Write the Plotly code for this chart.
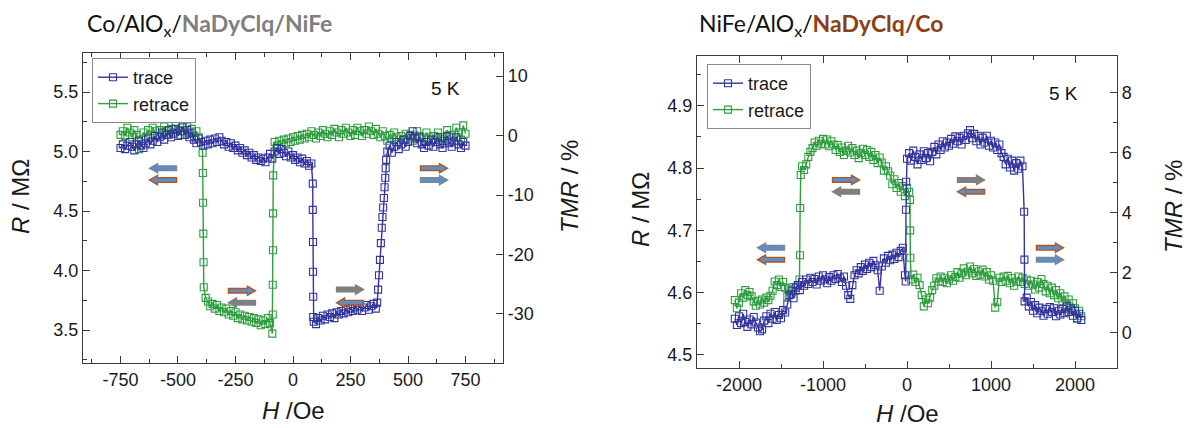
import plotly.graph_objects as go

# ---------------- data: left panel  Co/AlOx/NaDyClq/NiFe ----------------
L_trace_H = [-750,-740,-730,-720,-710,-700,-690,-680,-670,-660,-650,-640,-630,-620,-610,-600,-590,-580,-570,-560,
             -550,-540,-530,-520,-510,-500,-490,-480,-470,-460,-450,-440,-430,-420,-410,-400,-390,-380,-370,-360,
             -350,-340,-330,-320,-310,-300,-290,-280,-270,-260,-250,-240,-230,-220,-210,-200,-190,-180,-170,-160,
             -150,-140,-130,-120,-110,-100,-90,-80,-70,-60,-50,-40,-30,-20,-10,0,10,20,30,40,50,60,70,80,
             86,86,87,87,88,88,
             90,100,110,120,130,140,150,160,170,180,190,200,210,220,230,240,250,260,270,280,290,300,310,320,330,340,350,360,
             366,370,374,378,382,386,389,392,395,398,401,403,405,
             410,420,430,440,450,460,470,480,490,500,510,520,530,540,550,560,570,580,590,600,610,620,630,640,650,
             660,670,680,690,700,710,720,730,740,750]
L_trace_R = [5.03,5.06,5.02,5.05,5.08,5.04,5.01,5.06,5.09,5.05,5.03,5.07,5.11,5.06,5.09,5.13,5.08,5.12,5.16,5.10,
             5.14,5.18,5.12,5.15,5.19,5.13,5.17,5.21,5.14,5.18,5.12,5.16,5.10,5.07,5.11,5.08,5.05,5.09,5.06,5.10,
             5.07,5.11,5.08,5.12,5.09,5.06,5.08,5.04,5.07,5.03,5.05,5.01,5.03,4.99,5.01,4.97,4.99,4.95,4.97,4.93,
             4.95,4.92,4.94,4.91,4.95,4.98,4.94,5.00,5.03,4.98,5.02,4.99,4.96,5.00,4.95,4.97,4.93,4.95,4.91,4.94,4.90,4.92,4.88,4.90,
             4.73,4.51,4.24,3.99,3.78,3.61,
             3.57,3.55,3.60,3.58,3.62,3.59,3.63,3.61,3.64,3.60,3.65,3.63,3.66,3.64,3.67,3.65,3.68,3.66,3.69,3.67,3.70,3.66,3.69,3.71,3.67,3.70,3.72,3.68,
             3.73,3.84,3.96,4.09,4.23,4.36,4.45,4.53,4.61,4.70,4.78,4.86,4.93,
             5.00,5.05,4.99,5.04,5.08,5.02,5.06,5.10,5.04,5.08,5.13,5.17,5.11,5.07,5.12,5.06,5.03,5.08,5.05,5.10,5.04,5.08,5.12,5.06,5.03,
             5.09,5.13,5.07,5.04,5.09,5.12,5.06,5.03,5.08,5.05]

L_retrace_H = [750,740,730,720,710,700,690,680,670,660,650,640,630,620,610,600,590,580,570,560,
               550,540,530,520,510,500,490,480,470,460,450,440,430,420,410,400,390,380,370,360,
               350,340,330,320,310,300,290,280,270,260,250,240,230,220,210,200,190,180,170,160,
               150,140,130,120,110,100,90,80,70,60,50,40,30,20,10,0,-10,-20,-30,-40,-50,-60,-70,-80,
               -86,-87,-87,-88,-88,
               -90,-100,-110,-120,-130,-140,-150,-160,-170,-180,-190,-200,-210,-220,-230,-240,-250,-260,-270,-280,
               -290,-300,-310,-320,-330,-340,-350,-360,-370,-380,
               -388,-389,-390,-391,-392,-393,
               -400,-410,-420,-430,-440,-450,-460,-470,-480,-490,-500,-510,-520,-530,-540,-550,-560,-570,-580,-590,
               -600,-610,-620,-630,-640,-650,-660,-670,-680,-690,-700,-710,-720,-730,-740,-750]
L_retrace_R = [5.15,5.22,5.10,5.16,5.20,5.12,5.08,5.14,5.18,5.11,5.07,5.12,5.16,5.10,5.13,5.09,5.12,5.16,5.11,5.08,
               5.13,5.17,5.12,5.09,5.14,5.11,5.15,5.10,5.13,5.08,5.12,5.16,5.11,5.14,5.09,5.13,5.17,5.12,5.15,5.19,
               5.14,5.17,5.21,5.15,5.18,5.13,5.17,5.20,5.14,5.18,5.13,5.16,5.20,5.15,5.18,5.12,5.16,5.19,5.14,5.17,
               5.12,5.15,5.18,5.13,5.16,5.11,5.14,5.17,5.12,5.15,5.11,5.14,5.10,5.13,5.09,5.12,5.08,5.11,5.07,5.10,5.06,5.09,5.05,5.08,
               4.80,4.48,4.17,3.88,3.63,
               3.47,3.56,3.60,3.55,3.58,3.54,3.59,3.56,3.60,3.57,3.61,3.58,3.62,3.59,3.63,3.60,3.65,3.62,3.66,3.63,
               3.68,3.65,3.69,3.66,3.71,3.68,3.72,3.70,3.74,3.77,
               3.86,4.07,4.31,4.57,4.82,4.99,
               5.08,5.12,5.17,5.13,5.19,5.15,5.21,5.16,5.20,5.14,5.18,5.22,5.16,5.19,5.14,5.17,5.21,5.15,5.18,5.13,
               5.17,5.20,5.14,5.18,5.12,5.16,5.10,5.02,5.14,5.18,5.12,5.16,5.20,5.13,5.17,5.14]

# ---------------- data: right panel  NiFe/AlOx/NaDyClq/Co ----------------
R_trace_H = [-2050,-2025,-2000,-1975,-1950,-1925,-1900,-1875,-1850,-1825,-1800,-1775,-1750,-1725,-1700,-1675,-1650,-1625,-1600,-1575,
             -1550,-1525,-1500,-1475,-1450,-1425,-1400,-1375,-1350,-1325,-1300,-1275,-1250,-1225,-1200,-1175,-1150,-1125,-1100,-1075,
             -1050,-1025,-1000,-975,-950,-925,-900,-875,-850,-825,-800,-775,-750,-725,-700,-675,-650,-625,-600,-575,
             -550,-525,-500,-475,-450,-425,-400,-375,-350,-325,-300,-275,-250,-225,-200,-175,-150,-125,-100,-75,-50,-25,
             -15,-12,-10,
             0,25,50,75,100,125,150,175,200,225,250,275,300,325,350,375,400,425,450,475,500,525,550,575,600,625,650,675,
             700,725,750,775,800,825,850,875,900,925,950,975,1000,1025,1050,1075,1100,1125,1150,1175,1200,1225,1250,1275,
             1300,1325,1350,1375,
             1395,1398,
             1400,1425,1450,1475,1500,1525,1550,1575,1600,1625,1650,1675,1700,1725,1750,1775,1800,1825,1850,1875,
             1900,1925,1950,1975,2000,2025,2050,2075]
R_trace_R = [4.558,4.548,4.562,4.551,4.566,4.553,4.545,4.557,4.549,4.561,4.552,4.544,4.538,4.541,4.555,4.562,4.551,4.566,4.558,4.569,
             4.556,4.564,4.559,4.572,4.568,4.581,4.596,4.603,4.591,4.608,4.612,4.604,4.617,4.611,4.621,4.614,4.624,4.617,4.622,4.613,
             4.626,4.619,4.628,4.621,4.615,4.625,4.619,4.628,4.622,4.630,4.624,4.617,4.626,4.611,4.596,4.590,4.612,4.628,4.636,4.631,
             4.641,4.635,4.645,4.638,4.648,4.641,4.651,4.644,4.636,4.603,4.642,4.655,4.648,4.659,4.652,4.661,4.654,4.664,4.657,4.667,4.672,4.628,
             4.618,4.733,4.778,
             4.815,4.824,4.812,4.828,4.818,4.806,4.822,4.813,4.827,4.816,4.824,4.811,4.826,4.834,4.822,4.838,4.829,4.843,4.833,4.841,
             4.836,4.847,4.839,4.851,4.843,4.849,4.838,4.852,4.845,4.856,4.861,4.848,4.855,4.843,4.852,4.838,4.849,4.841,4.852,4.836,
             4.844,4.833,4.841,4.829,4.838,4.824,4.818,4.806,4.815,4.801,4.812,4.796,4.808,4.799,4.812,4.803,
             4.730,4.653,
             4.586,4.592,4.578,4.585,4.571,4.580,4.567,4.576,4.571,4.563,4.574,4.566,4.577,4.569,4.575,4.562,4.571,4.565,4.574,4.567,
             4.578,4.569,4.575,4.563,4.571,4.559,4.566,4.556]

R_retrace_H = [2075,2050,2025,2000,1975,1950,1925,1900,1875,1850,1825,1800,1775,1750,1725,1700,1675,1650,1625,1600,
               1575,1550,1525,1500,1475,1450,1425,1400,1375,1350,1325,1300,1275,1250,1225,1200,1175,1150,1125,1100,
               1075,1050,1025,1000,975,950,925,900,875,850,825,800,775,750,725,700,675,650,625,600,
               575,550,525,500,475,450,425,400,375,350,325,300,275,250,225,200,175,150,125,100,75,50,
               40,38,36,
               25,0,-25,-50,-75,-100,-125,-150,-175,-200,-225,-250,-275,-300,-325,-350,-375,-400,-425,-450,
               -475,-500,-525,-550,-575,-600,-625,-650,-675,-700,-725,-750,-775,-800,-825,-850,-875,-900,-925,-950,
               -975,-1000,-1025,-1050,-1075,-1100,-1125,-1150,-1175,-1200,-1225,-1250,-1265,
               -1272,-1274,
               -1280,-1300,-1325,-1350,-1375,-1400,-1425,-1450,-1475,-1500,-1525,-1550,-1575,-1600,-1625,-1650,
               -1675,-1700,-1725,-1750,-1775,-1800,-1825,-1850,-1875,-1900,-1925,-1950,-1975,-2000,-2025,-2050]
R_retrace_R = [4.562,4.571,4.558,4.575,4.583,4.572,4.589,4.581,4.594,4.586,4.599,4.591,4.604,4.596,4.608,4.599,4.611,4.602,4.614,4.622,
               4.608,4.617,4.605,4.613,4.619,4.611,4.621,4.614,4.624,4.617,4.626,4.618,4.611,4.623,4.615,4.627,4.619,4.626,4.617,4.624,
               4.585,4.576,4.619,4.628,4.621,4.633,4.626,4.637,4.629,4.634,4.627,4.638,4.631,4.642,4.634,4.628,4.639,4.631,4.624,4.633,
               4.625,4.619,4.628,4.621,4.615,4.624,4.617,4.626,4.618,4.623,4.611,4.604,4.592,4.583,4.589,4.578,4.596,4.612,4.624,4.617,4.629,4.621,
               4.656,4.700,4.749,
               4.762,4.768,4.755,4.771,4.762,4.776,4.768,4.782,4.774,4.788,4.795,4.803,4.796,4.809,4.817,4.808,4.821,4.813,4.826,4.818,
               4.829,4.821,4.831,4.824,4.816,4.828,4.821,4.832,4.825,4.836,4.828,4.821,4.833,4.826,4.837,4.829,4.838,4.843,4.835,4.846,
               4.838,4.847,4.839,4.844,4.836,4.841,4.832,4.826,4.818,4.806,4.797,4.803,4.789,
               4.736,4.660,
               4.621,4.612,4.603,4.609,4.598,4.605,4.594,4.608,4.617,4.609,4.621,4.612,4.618,4.603,4.595,4.588,
               4.592,4.584,4.589,4.581,4.587,4.579,4.586,4.594,4.601,4.596,4.604,4.592,4.599,4.584,4.575,4.588]

# tick values / labels
L_H_ticks = [-750, -500, -250, 0, 250, 500, 750]
L_R_ticks = [3.5, 4.0, 4.5, 5.0, 5.5]
L_TMR_ticks = [-30, -20, -10, 0, 10]
R_H_ticks = [-2000, -1000, 0, 1000, 2000]
R_R_ticks = [4.5, 4.6, 4.7, 4.8, 4.9]
R_TMR_ticks = [0, 2, 4, 6, 8]

# ---------------- style ----------------
W, H = 1190, 428
BLUE = "#34349f"
GREEN = "#2f9e3f"
AX = "#3a3a3a"
TICKFONT = dict(family="Liberation Sans, Arial, sans-serif", size=18, color="#1a1a1a")
TITLEFONT = dict(family="Liberation Sans, Arial, sans-serif", size=24, color="#1a1a1a")

# panel pixel boxes (left, top, right, bottom)
LBOX = (83, 53, 503, 363)
RBOX = (697, 56, 1117, 368)
L_XR, L_YR, L_Y2R = [-913, 913], [3.223, 5.828], [-38.24, 13.87]
R_XR, R_YR, R_Y2R = [-2500, 2500], [4.479, 4.980], [-1.17, 9.23]


def dom_x(b):
    return [b[0] / W, b[2] / W]


def dom_y(b):
    return [(H - b[3]) / H, (H - b[1]) / H]


def lab(vals, fmt="{:g}"):
    return [fmt.format(v) for v in vals]


fig = go.Figure()


def add_series(xs, ys, name, color, xa, ya, leg, rank):
    fig.add_trace(go.Scatter(
        x=xs, y=ys, mode="lines+markers", name=name, xaxis=xa, yaxis=ya,
        legend=leg, legendrank=rank,
        line=dict(color=color, width=1.4),
        marker=dict(symbol="square-open", size=7, color=color, line=dict(width=1.1, color=color)),
    ))


add_series(L_retrace_H, L_retrace_R, "retrace", GREEN, "x", "y", "legend", 2)
add_series(L_trace_H, L_trace_R, "trace", BLUE, "x", "y", "legend", 1)
add_series(R_retrace_H, R_retrace_R, "retrace", GREEN, "x2", "y3", "legend2", 2)
add_series(R_trace_H, R_trace_R, "trace", BLUE, "x2", "y3", "legend2", 1)
# empty traces so the TMR axes are drawn
fig.add_trace(go.Scatter(x=[None], y=[None], xaxis="x", yaxis="y2", showlegend=False, hoverinfo="skip"))
fig.add_trace(go.Scatter(x=[None], y=[None], xaxis="x2", yaxis="y4", showlegend=False, hoverinfo="skip"))

common = dict(showgrid=False, zeroline=False, showline=True, linecolor=AX, linewidth=1.2,
              ticks="inside", tickcolor=AX, tickwidth=1.2, ticklen=7, tickfont=TICKFONT)

fig.update_layout(
    width=W, height=H, margin=dict(l=0, r=0, t=0, b=0),
    paper_bgcolor="white", plot_bgcolor="white",
    xaxis=dict(domain=dom_x(LBOX), range=L_XR, anchor="y", tickmode="array",
               tickvals=L_H_ticks, ticktext=lab(L_H_ticks), mirror="ticks",
               minor=dict(tickvals=[-875, -625, -375, -125, 125, 375, 625, 875], ticklen=4, ticks="inside",
                          tickcolor=AX), **common),
    yaxis=dict(domain=dom_y(LBOX), range=L_YR, anchor="x", tickmode="array",
               tickvals=L_R_ticks, ticktext=lab(L_R_ticks, "{:.1f}"),
               minor=dict(tickvals=[3.25, 3.75, 4.25, 4.75, 5.25, 5.75], ticklen=4, ticks="inside", tickcolor=AX),
               **common),
    yaxis2=dict(range=L_Y2R, overlaying="y", side="right", anchor="x", tickmode="array",
                tickvals=L_TMR_ticks, ticktext=lab(L_TMR_ticks), **common),
    xaxis2=dict(domain=dom_x(RBOX), range=R_XR, anchor="y3", tickmode="array",
                tickvals=R_H_ticks, ticktext=lab(R_H_ticks), mirror="ticks",
                minor=dict(tickvals=[-1500, -500, 500, 1500], ticklen=4, ticks="inside", tickcolor=AX),
                **common),
    yaxis3=dict(domain=dom_y(RBOX), range=R_YR, anchor="x2", tickmode="array",
                tickvals=R_R_ticks, ticktext=lab(R_R_ticks, "{:.1f}"),
                minor=dict(tickvals=[4.55, 4.65, 4.75, 4.85, 4.95], ticklen=4, ticks="inside", tickcolor=AX),
                **common),
    yaxis4=dict(range=R_Y2R, overlaying="y3", side="right", anchor="x2", tickmode="array",
                tickvals=R_TMR_ticks, ticktext=lab(R_TMR_ticks),
                minor=dict(tickvals=[1, 3, 5, 7], ticklen=4, ticks="inside", tickcolor=AX), **common),
    legend=dict(x=92 / W, y=(H - 58) / H, xanchor="left", yanchor="top", bgcolor="white",
                bordercolor="#8a8a8a", borderwidth=1, font=TICKFONT, tracegroupgap=0, itemwidth=30),
    legend2=dict(x=707 / W, y=(H - 64) / H, xanchor="left", yanchor="top", bgcolor="white",
                 bordercolor="#8a8a8a", borderwidth=1, font=TICKFONT, tracegroupgap=0, itemwidth=30),
)

# ---------------- text ----------------
ann = []
TF = dict(family="Lato, Open Sans, sans-serif", size=23, color="#111111")
ann.append(dict(text="Co/AlO<sub>x</sub>/<span style='color:#7f7f7f'><b>NaDyClq/NiFe</b></span>",
                x=85 / W, y=(H - 24) / H, xref="paper", yref="paper", xanchor="left", yanchor="middle",
                showarrow=False, font=TF))
ann.append(dict(text="NiFe/AlO<sub>x</sub>/<span style='color:#8c3f16'><b>NaDyClq/Co</b></span>",
                x=697 / W, y=(H - 24) / H, xref="paper", yref="paper", xanchor="left", yanchor="middle",
                showarrow=False, font=TF))
for (px, py, t, ang) in [(20, 197, "<i>R</i> / MΩ", -90), (640, 210, "<i>R</i> / MΩ", -90),
                         (569, 187, "<i>TMR</i> / %", -90), (1173, 207, "<i>TMR</i> / %", -90),
                         (293, 410, "<i>H</i> /Oe", 0), (907, 413, "<i>H</i> /Oe", 0)]:
    ann.append(dict(text=t, x=px / W, y=(H - py) / H, xref="paper", yref="paper", xanchor="center",
                    yanchor="middle", textangle=ang, showarrow=False, font=TITLEFONT))
for (px, py) in [(445, 88), (1063, 93)]:
    ann.append(dict(text="5 K", x=px / W, y=(H - py) / H, xref="paper", yref="paper", xanchor="center",
                    yanchor="middle", showarrow=False, font=dict(family=TICKFONT["family"], size=19, color="#111")))
fig.update_layout(annotations=ann)

# ---------------- block arrows (decorations) ----------------
ARROW_STYLE = {
    "blue": ("#5b8fc7", "#7d8690"),
    "orange": ("#5b8fc7", "#b4541f"),
    "gray": ("#808080", "#808080"),
}
# (panel, center H, center R, direction, style)
arrows = [
    ("L", -565, 4.86, -1, "blue"), ("L", -565, 4.76, -1, "orange"),
    ("L", 613, 4.86, 1, "orange"), ("L", 613, 4.76, 1, "blue"),
    ("L", -222, 3.83, 1, "orange"), ("L", -222, 3.73, -1, "gray"),
    ("L", 248, 3.84, 1, "gray"), ("L", 248, 3.73, -1, "orange"),
    ("R", -726, 4.781, 1, "orange"), ("R", -726, 4.762, -1, "gray"),
    ("R", 762, 4.781, 1, "gray"), ("R", 762, 4.762, -1, "orange"),
    ("R", -1619, 4.672, -1, "blue"), ("R", -1619, 4.653, -1, "orange"),
    ("R", 1702, 4.672, 1, "orange"), ("R", 1702, 4.653, 1, "blue"),
]
shapes = []
for panel, cx, cy, d, st in arrows:
    if panel == "L":
        box, xr, yr, xref, yref = LBOX, L_XR, L_YR, "x", "y"
    else:
        box, xr, yr, xref, yref = RBOX, R_XR, R_YR, "x2", "y3"
    sx = (xr[1] - xr[0]) / (box[2] - box[0])
    sy = (yr[1] - yr[0]) / (box[3] - box[1])
    L2, hl, bh, hh = 13.5, 8, 2.3, 4.6
    pts = [(-L2, -bh), (L2 - hl, -bh), (L2 - hl, -hh), (L2, 0), (L2 - hl, hh), (L2 - hl, bh), (-L2, bh)]
    path = "M " + " L ".join(f"{cx + d * px_ * sx:.4f},{cy + py_ * sy:.5f}" for px_, py_ in pts) + " Z"
    fill, line = ARROW_STYLE[st]
    shapes.append(dict(type="path", path=path, xref=xref, yref=yref, fillcolor=fill,
                       line=dict(color=line, width=1.4), layer="above"))
fig.update_layout(shapes=shapes)

fig.write_html("out.html", config={"displayModeBar": False})

# remove the default page margin so the figure sits at the window's top-left corner
with open("out.html", encoding="utf-8") as f:
    html = f.read()
html = html.replace("<head>", "<head><style>html,body{margin:0;padding:0;overflow:hidden;}</style>", 1)
with open("out.html", "w", encoding="utf-8") as f:
    f.write(html)
